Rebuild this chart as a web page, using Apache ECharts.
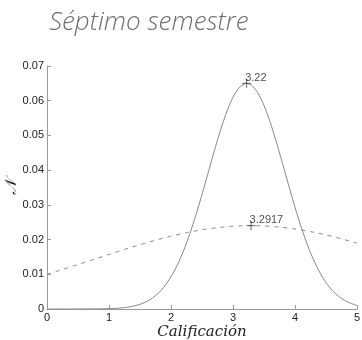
<!DOCTYPE html>
<html>
<head>
<meta charset="utf-8">
<script src="https://cdn.jsdelivr.net/npm/echarts@6/dist/echarts.min.js"></script>
<style>
  html, body { margin: 0; padding: 0; background: #fff; }
  #chart { width: 362px; height: 340px; }
</style>
</head>
<body>
<div id="chart"></div>
<script>
// Densidad normal de las calificaciones (curva continua)
const gradesA = [0.8, 1.0, 1.1, 1.2, 1.3, 1.4, 1.5, 1.6, 1.7, 1.8, 1.9, 2.0, 2.1, 2.2, 2.3, 2.4, 2.5,
  2.6, 2.7, 2.8, 2.9, 3.0, 3.1, 3.2, 3.22, 3.3, 3.4, 3.5, 3.6, 3.7, 3.8, 3.9, 4.0, 4.1, 4.2,
  4.3, 4.4, 4.5, 4.6, 4.7, 4.8, 4.9, 5.0];
const densityA = [0.00003, 0.0001, 0.00018, 0.00031, 0.00052, 0.00085, 0.00135, 0.00209, 0.00316,
  0.00464, 0.00664, 0.00927, 0.01258, 0.01665, 0.02147, 0.02696, 0.03298, 0.0393, 0.04562,
  0.0516, 0.05685, 0.06101, 0.06378, 0.06497, 0.065, 0.06446, 0.0623, 0.05866, 0.05381,
  0.04807, 0.04185, 0.03549, 0.02932, 0.02359, 0.01849, 0.01412, 0.0105, 0.00761, 0.00537,
  0.0037, 0.00248, 0.00162, 0.00103];
const gradesLeadA = [0, 0.4];
const densityLeadA = [0, 0];

// Densidad de la segunda distribución (curva discontinua)
const gradesB = [0, 0.25, 0.5, 0.75, 1.0, 1.25, 1.5, 1.75, 2.0, 2.25, 2.5, 2.75, 3.0, 3.25,
  3.2917, 3.5, 3.75, 4.0, 4.25, 4.5, 4.75, 5.0];
const densityB = [0.01002, 0.01138, 0.0128, 0.01426, 0.01571, 0.01715, 0.01853, 0.01981, 0.02098,
  0.02199, 0.02282, 0.02344, 0.02384, 0.024, 0.024, 0.02392, 0.0236, 0.02305, 0.02229,
  0.02134, 0.02022, 0.01897];

// Máximos marcados
const peakX = [3.22, 3.2917];
const peakY = [0.065, 0.024];
const peakText = ['3.22', '3.2917'];

const xTicks = [0, 1, 2, 3, 4, 5];
const yTicks = [0, 0.01, 0.02, 0.03, 0.04, 0.05, 0.06, 0.07];

const zip = (xs, ys) => xs.map((x, i) => [x, ys[i]]);
const curveA = zip(gradesLeadA, densityLeadA).concat(zip(gradesA, densityA));

const axisGray = '#9a9a9a';
const textColor = '#222';
const plusPath = 'path://M5,0 L5,10 M0,5 L10,5';

const chart = echarts.init(document.getElementById('chart'), null, { renderer: 'canvas' });
chart.setOption({
  animation: false,
  backgroundColor: '#fff',
  title: {
    text: 'Séptimo semestre',
    left: 44,
    top: 5,
    textStyle: {
      fontFamily: 'Open Sans',
      fontStyle: 'italic',
      fontWeight: 300,
      fontSize: 26,
      color: '#6e6e6e'
    }
  },
  grid: { left: 47, right: 5, top: 66, bottom: 31, containLabel: false, outerBoundsMode: 'none' },
  xAxis: {
    type: 'value',
    min: xTicks[0],
    max: xTicks[xTicks.length - 1],
    interval: 1,
    name: 'Calificación',
    nameLocation: 'middle',
    nameGap: 16,
    nameMoveOverlap: false,
    nameTextStyle: {
      fontFamily: 'DejaVu Serif',
      fontStyle: 'italic',
      fontSize: 15,
      color: textColor,
      verticalAlign: 'top'
    },
    axisLine: { lineStyle: { color: axisGray, width: 1 } },
    axisTick: { inside: true, length: 4, lineStyle: { color: axisGray } },
    axisLabel: { fontFamily: 'Liberation Sans', fontSize: 11, color: textColor, margin: 3 },
    splitLine: { show: false }
  },
  yAxis: {
    type: 'value',
    min: yTicks[0],
    max: yTicks[yTicks.length - 1],
    interval: 0.01,
    name: '𝒩',
    nameLocation: 'middle',
    nameGap: 27,
    nameMoveOverlap: false,
    nameRotate: 90,
    nameTextStyle: {
      fontFamily: 'DejaVu Serif',
      fontStyle: 'italic',
      fontSize: 16,
      color: textColor
    },
    axisLine: { show: true, lineStyle: { color: axisGray, width: 1 } },
    axisTick: { show: true, inside: true, length: 4, lineStyle: { color: axisGray } },
    axisLabel: {
      fontFamily: 'Liberation Sans', fontSize: 11, color: textColor, margin: 3,
      formatter: v => (Math.abs(v) < 1e-9 ? '0' : v.toFixed(2))
    },
    splitLine: { show: false }
  },
  series: [
    {
      type: 'line',
      data: curveA,
      showSymbol: false,
      smooth: 0.2,
      lineStyle: { color: '#858585', width: 1 },
      z: 3
    },
    {
      type: 'line',
      data: zip(gradesB, densityB),
      showSymbol: false,
      smooth: 0.2,
      lineStyle: { color: '#8a8a8a', width: 1, type: [4, 5] },
      z: 2
    },
    {
      type: 'scatter',
      data: zip(peakX, peakY).map((p, i) => ({ value: p, name: peakText[i] })),
      symbol: plusPath,
      symbolSize: 9,
      itemStyle: { color: 'none', borderColor: '#444', borderWidth: 1 },
      label: {
        show: true,
        position: [5.5, 7],
        align: 'left',
        verticalAlign: 'bottom',
        formatter: p => p.name,
        fontFamily: 'Liberation Sans',
        fontSize: 11,
        color: textColor
      },
      z: 5
    }
  ]
});
</script>
</body>
</html>
